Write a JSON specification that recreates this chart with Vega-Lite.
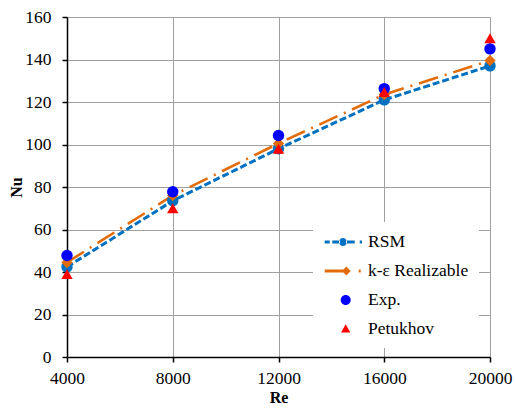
{
  "$schema": "https://vega.github.io/schema/vega-lite/v6.json",
  "autosize": "none",
  "width": 423,
  "height": 340,
  "padding": {"left": 67, "top": 17, "right": 25, "bottom": 51},
  "background": "white",
  "config": {
    "view": {"stroke": null},
    "font": "Liberation Serif",
    "axis": {
      "labelColor": "black",
      "labelFlush": false,
      "titleFont": "Liberation Serif",
      "titleFontSize": 16,
      "titleFontWeight": "bold",
      "titleColor": "black",
      "gridColor": "#a0a0a0",
      "gridWidth": 1,
      "gridOpacity": 1,
      "domainColor": "black",
      "domainWidth": 1.5,
      "tickColor": "black",
      "tickWidth": 1.5,
      "tickSize": 5
    }
  },
  "data": {
    "values": [
      {"series": "RSM", "Re": 4000, "Nu": 42.4},
      {"series": "RSM", "Re": 8000, "Nu": 73.5},
      {"series": "RSM", "Re": 12000, "Nu": 98},
      {"series": "RSM", "Re": 16000, "Nu": 121},
      {"series": "RSM", "Re": 20000, "Nu": 137},
      {"series": "k-ε Realizable", "Re": 4000, "Nu": 44.5},
      {"series": "k-ε Realizable", "Re": 8000, "Nu": 76},
      {"series": "k-ε Realizable", "Re": 12000, "Nu": 100.5},
      {"series": "k-ε Realizable", "Re": 16000, "Nu": 123.5},
      {"series": "k-ε Realizable", "Re": 20000, "Nu": 139.5},
      {"series": "Exp.", "Re": 4000, "Nu": 47.8},
      {"series": "Exp.", "Re": 8000, "Nu": 77.8},
      {"series": "Exp.", "Re": 12000, "Nu": 104.2},
      {"series": "Exp.", "Re": 16000, "Nu": 126.3},
      {"series": "Exp.", "Re": 20000, "Nu": 145},
      {"series": "Petukhov", "Re": 4000, "Nu": 39},
      {"series": "Petukhov", "Re": 8000, "Nu": 70},
      {"series": "Petukhov", "Re": 12000, "Nu": 98},
      {"series": "Petukhov", "Re": 16000, "Nu": 124.7},
      {"series": "Petukhov", "Re": 20000, "Nu": 150}
    ]
  },
  "encoding": {
    "x": {
      "field": "Re",
      "type": "quantitative",
      "title": "Re",
      "scale": {"domain": [4000, 20000], "nice": false, "zero": false},
      "axis": {
        "values": [4000, 8000, 12000, 16000, 20000],
        "format": "d",
        "labelFont": "Liberation Serif",
        "labelFontSize": 17.5,
        "labelPadding": 7,
        "titlePadding": 3,
        "encode": {"ticks": {"update": {"y": {"value": -5}}}}
      }
    },
    "y": {
      "field": "Nu",
      "type": "quantitative",
      "title": "Nu",
      "scale": {"domain": [0, 160], "nice": false},
      "axis": {
        "values": [0, 20, 40, 60, 80, 100, 120, 140, 160],
        "labelFont": "Liberation Serif",
        "labelFontSize": 17.5,
        "labelPadding": 11,
        "titlePadding": 0,
        "encode": {"ticks": {"update": {"x": {"value": 5}}}}
      }
    }
  },
  "resolve": {
    "scale": {"shape": "independent", "color": "independent"},
    "legend": {"shape": "independent", "color": "independent"}
  },
  "layer": [
    {
      "transform": [{"filter": "datum.series === 'RSM'"}],
      "mark": {"type": "line", "color": "#0070C0", "strokeWidth": 3, "strokeDash": [7, 3]}
    },
    {
      "transform": [{"filter": "datum.series === 'k-ε Realizable'"}],
      "mark": {"type": "line", "color": "#E36C0A", "strokeWidth": 2.6, "strokeDash": [20, 7, 2, 7]}
    },
    {
      "mark": {"type": "point", "filled": true, "opacity": 1, "size": 130, "strokeWidth": 0},
      "encoding": {
        "color": {
          "field": "series",
          "type": "nominal",
          "sort": null,
          "scale": {
            "domain": ["RSM", "k-ε Realizable", "Exp.", "Petukhov"],
            "range": ["#0070C0", "#E36C0A", "#0000FF", "#FF0000"]
          },
          "legend": null
        },
        "shape": {
          "field": "series",
          "type": "nominal",
          "sort": null,
          "scale": {
            "domain": ["RSM", "k-ε Realizable", "Exp.", "Petukhov"],
            "range": ["circle", "diamond", "circle", "triangle-up"]
          },
          "legend": null
        }
      }
    },
    {
      "mark": {"type": "point", "filled": true, "opacity": 0, "size": 400, "strokeWidth": 0},
      "encoding": {
        "color": {
          "field": "series",
          "type": "nominal",
          "sort": null,
          "scale": {
            "domain": ["RSM", "k-ε Realizable", "Exp.", "Petukhov"],
            "range": ["#0070C0", "#E36C0A", "#0000FF", "#FF0000"]
          },
          "legend": {
            "title": null,
            "orient": "none",
            "legendX": 246,
            "legendY": 205,
            "padding": 10,
            "fillColor": "white",
            "symbolSize": 400,
            "symbolOffset": 10,
            "symbolOpacity": 1,
            "symbolStrokeWidth": 0,
            "labelOffset": 15,
            "labelFont": "Liberation Serif",
            "labelFontSize": 17.5,
            "labelColor": "black",
            "rowPadding": 10
          }
        },
        "shape": {
          "field": "series",
          "type": "nominal",
          "sort": null,
          "scale": {
            "domain": ["RSM", "k-ε Realizable", "Exp.", "Petukhov"],
            "range": [
              "M-1.83,-0.14H-1.33V0.14H-1.83Z M-1.07,-0.14H-0.3V0.14H-1.07Z M0.3,-0.14H1.17V0.14H0.3Z M1.67,-0.14H1.9V0.14H1.67Z M-0.4,0A0.4,0.4 0 1,0 0.4,0A0.4,0.4 0 1,0 -0.4,0Z",
              "M-1.83,-0.14H0.1V0.14H-1.83Z M0.33,-0.44L0.77,0L0.33,0.44L-0.11,0Z M1.57,-0.14H1.77V0.14H1.57Z",
              "M-0.23,0A0.5,0.5 0 1,0 0.77,0A0.5,0.5 0 1,0 -0.23,0Z",
              "M0.27,-0.48L0.74,0.36L-0.2,0.36Z"
            ]
          },
          "legend": {
            "title": null,
            "orient": "none",
            "legendX": 246,
            "legendY": 205,
            "padding": 10,
            "fillColor": "white",
            "symbolSize": 400,
            "symbolOffset": 10,
            "symbolOpacity": 1,
            "symbolStrokeWidth": 0,
            "labelOffset": 15,
            "labelFont": "Liberation Serif",
            "labelFontSize": 17.5,
            "labelColor": "black",
            "rowPadding": 10
          }
        }
      }
    }
  ]
}
